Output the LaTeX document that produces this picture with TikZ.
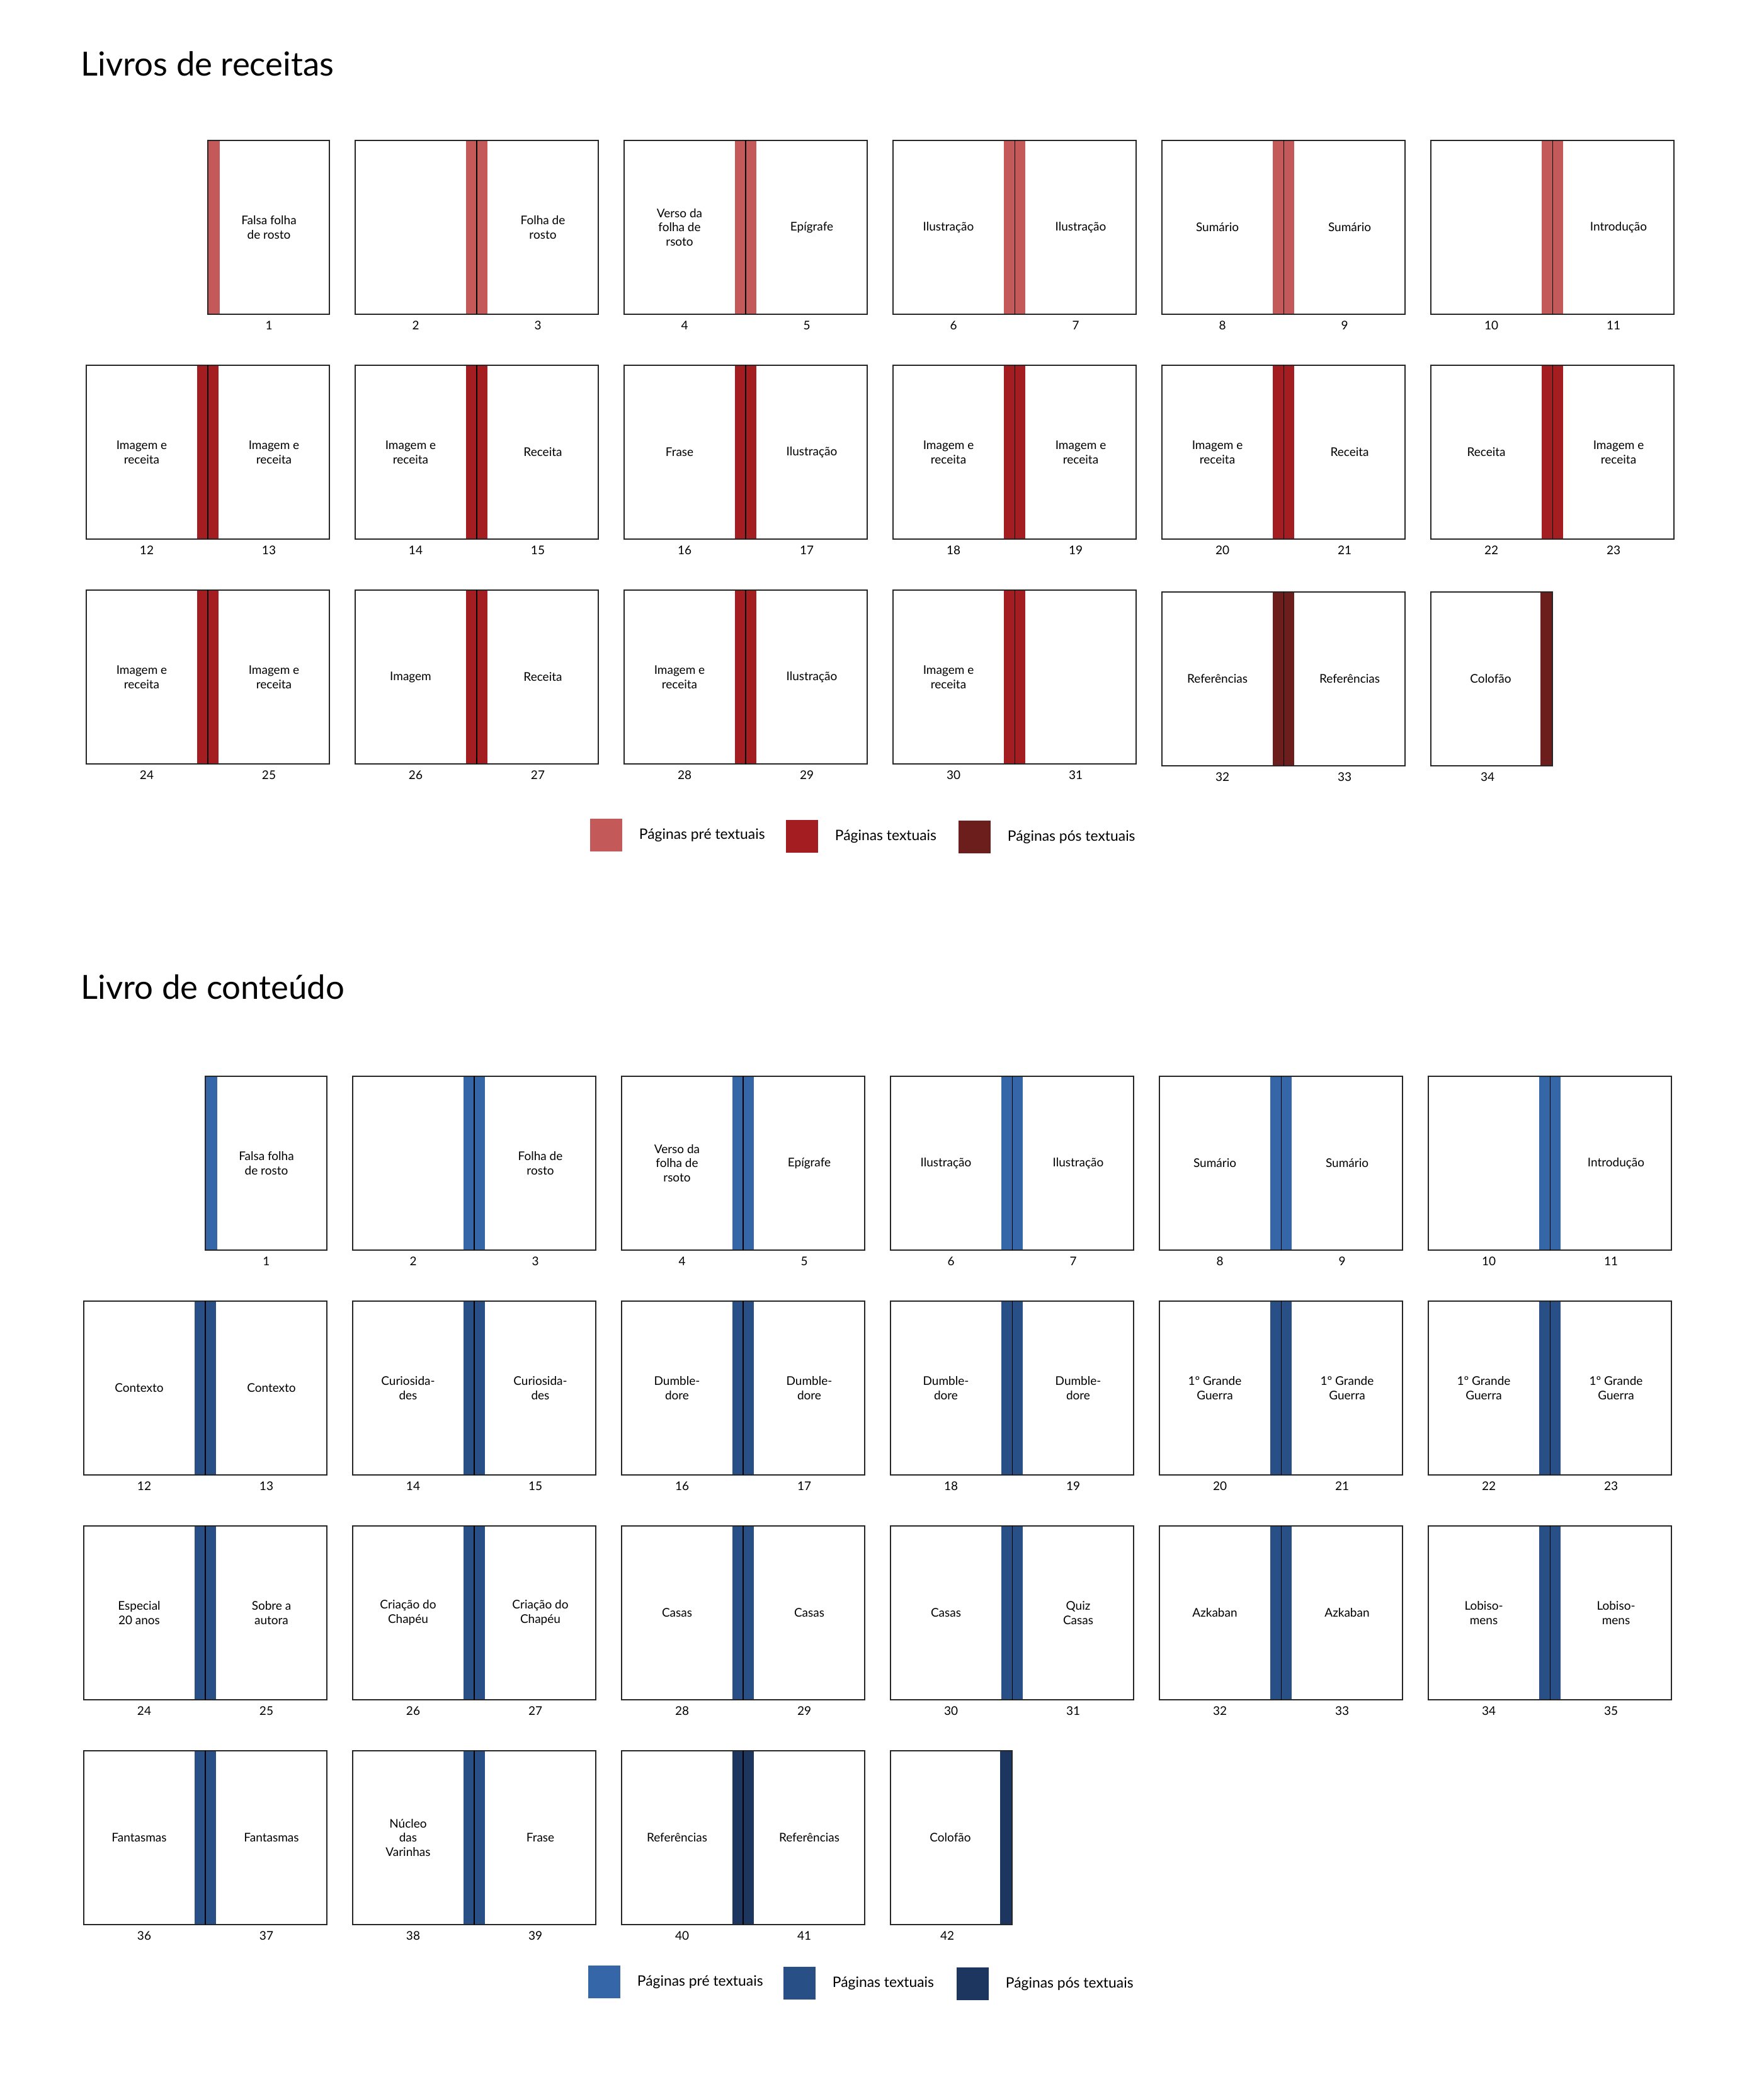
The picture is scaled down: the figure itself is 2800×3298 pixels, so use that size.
\documentclass[tikz,border=0pt]{standalone}
\usepackage{fontspec}
\setmainfont{Lato}
\usetikzlibrary{positioning}
\definecolor{vermpre}{HTML}{C4595A}
\definecolor{vermtxt}{HTML}{A41D21}
\definecolor{vermpos}{HTML}{6B1E1C}
\definecolor{azulpre}{HTML}{3566A8}
\definecolor{azultxt}{HTML}{285087}
\definecolor{azulpos}{HTML}{1C365F}

% pagina dupla: prefixo, x, y, cor, rotulo esq, rotulo dir, num esq, num dir
\newcommand{\dupla}[8]{%
  \fill[#4] (#2+176,#3) rectangle (#2+210,#3+276);
  \draw[pag] (#2,#3) rectangle (#2+386,#3+276);
  \draw[lomb] (#2+193,#3) -- (#2+193,#3+276);
  \node[rot] (#1r#7) at (#2+88,#3+138) {#5};
  \node[rot] (#1r#8) at (#2+298,#3+138) {#6};
  \node[num] (#1n#7) at (#2+96,#3+294) {#7};
  \node[num] (#1n#8) at (#2+290,#3+294) {#8};
}
% pagina simples a direita
\newcommand{\direita}[6]{%
  \fill[#4] (#2+193,#3) rectangle (#2+212,#3+276);
  \draw[pag] (#2+193,#3) rectangle (#2+386,#3+276);
  \node[rot] (#1r#6) at (#2+290,#3+138) {#5};
  \node[num] (#1n#6) at (#2+290,#3+294) {#6};
}
% pagina simples a esquerda
\newcommand{\esquerda}[6]{%
  \fill[#4] (#2+174,#3) rectangle (#2+193,#3+276);
  \draw[pag] (#2,#3) rectangle (#2+193,#3+276);
  \node[rot] (#1r#6) at (#2+95,#3+138) {#5};
  \node[num] (#1n#6) at (#2+90,#3+294) {#6};
}

\begin{document}
\begin{tikzpicture}[
  x=0.01cm, y=-0.01cm,
  pag/.style={draw=black!85, line width=0.55pt},
  lomb/.style={draw=black, line width=0.3pt},
  rot/.style={font=\fontsize{5.4}{6.5}\selectfont, align=center, inner sep=0pt},
  num/.style={font=\fontsize{5.4}{6.5}\selectfont, inner sep=0pt},
  tit/.style={font=\fontsize{15}{18}\selectfont, inner sep=0pt, anchor=base west},
  quad/.style={minimum width=0.51cm, minimum height=0.52cm, inner sep=0pt},
  leg/.style={font=\fontsize{6.5}{8}\selectfont, inner sep=0pt}
]
\useasboundingbox (0,0) rectangle (2800,3298);

% livros de receitas
\node[tit] (tv) at (128,121) {Livros de receitas};

\direita{v}{137}{223}{vermpre}{Falsa folha\\de rosto}{1}
\dupla{v}{564}{223}{vermpre}{}{Folha de\\rosto}{2}{3}
\dupla{v}{991}{223}{vermpre}{Verso da\\folha de\\rsoto}{Epígrafe}{4}{5}
\dupla{v}{1418}{223}{vermpre}{Ilustração}{Ilustração}{6}{7}
\dupla{v}{1845}{223}{vermpre}{Sumário}{Sumário}{8}{9}
\dupla{v}{2272}{223}{vermpre}{}{Introdução}{10}{11}

\dupla{v}{137}{580}{vermtxt}{Imagem e\\receita}{Imagem e\\receita}{12}{13}
\dupla{v}{564}{580}{vermtxt}{Imagem e\\receita}{Receita}{14}{15}
\dupla{v}{991}{580}{vermtxt}{Frase}{Ilustração}{16}{17}
\dupla{v}{1418}{580}{vermtxt}{Imagem e\\receita}{Imagem e\\receita}{18}{19}
\dupla{v}{1845}{580}{vermtxt}{Imagem e\\receita}{Receita}{20}{21}
\dupla{v}{2272}{580}{vermtxt}{Receita}{Imagem e\\receita}{22}{23}

\dupla{v}{137}{937}{vermtxt}{Imagem e\\receita}{Imagem e\\receita}{24}{25}
\dupla{v}{564}{937}{vermtxt}{Imagem}{Receita}{26}{27}
\dupla{v}{991}{937}{vermtxt}{Imagem e\\receita}{Ilustração}{28}{29}
\dupla{v}{1418}{937}{vermtxt}{Imagem e\\receita}{}{30}{31}
\dupla{v}{1845}{940}{vermpos}{Referências}{Referências}{32}{33}
\esquerda{v}{2272}{940}{vermpos}{Colofão}{34}

\node[quad, fill=vermpre] (lv1) at (962,1326) {};
\node[leg, right=2.6mm of lv1] (tv1) {Páginas pré textuais};
\node[quad, fill=vermtxt] (lv2) at (1273,1328) {};
\node[leg, right=2.6mm of lv2] (tv2) {Páginas textuais};
\node[quad, fill=vermpos] (lv3) at (1547,1329) {};
\node[leg, right=2.6mm of lv3] (tv3) {Páginas pós textuais};

% livro de conteudo
\node[tit] (ta) at (128,1586) {Livro de conteúdo};

\direita{a}{133}{1709}{azulpre}{Falsa folha\\de rosto}{1}
\dupla{a}{560}{1709}{azulpre}{}{Folha de\\rosto}{2}{3}
\dupla{a}{987}{1709}{azulpre}{Verso da\\folha de\\rsoto}{Epígrafe}{4}{5}
\dupla{a}{1414}{1709}{azulpre}{Ilustração}{Ilustração}{6}{7}
\dupla{a}{1841}{1709}{azulpre}{Sumário}{Sumário}{8}{9}
\dupla{a}{2268}{1709}{azulpre}{}{Introdução}{10}{11}

\dupla{a}{133}{2066}{azultxt}{Contexto}{Contexto}{12}{13}
\dupla{a}{560}{2066}{azultxt}{Curiosida-\\des}{Curiosida-\\des}{14}{15}
\dupla{a}{987}{2066}{azultxt}{Dumble-\\dore}{Dumble-\\dore}{16}{17}
\dupla{a}{1414}{2066}{azultxt}{Dumble-\\dore}{Dumble-\\dore}{18}{19}
\dupla{a}{1841}{2066}{azultxt}{1º Grande\\Guerra}{1º Grande\\Guerra}{20}{21}
\dupla{a}{2268}{2066}{azultxt}{1º Grande\\Guerra}{1º Grande\\Guerra}{22}{23}

\dupla{a}{133}{2423}{azultxt}{Especial\\20 anos}{Sobre a\\autora}{24}{25}
\dupla{a}{560}{2423}{azultxt}{Criação do\\Chapéu}{Criação do\\Chapéu}{26}{27}
\dupla{a}{987}{2423}{azultxt}{Casas}{Casas}{28}{29}
\dupla{a}{1414}{2423}{azultxt}{Casas}{Quiz\\Casas}{30}{31}
\dupla{a}{1841}{2423}{azultxt}{Azkaban}{Azkaban}{32}{33}
\dupla{a}{2268}{2423}{azultxt}{Lobiso-\\mens}{Lobiso-\\mens}{34}{35}

\dupla{a}{133}{2780}{azultxt}{Fantasmas}{Fantasmas}{36}{37}
\dupla{a}{560}{2780}{azultxt}{Núcleo\\das\\Varinhas}{Frase}{38}{39}
\dupla{a}{987}{2780}{azulpos}{Referências}{Referências}{40}{41}
\esquerda{a}{1414}{2780}{azulpos}{Colofão}{42}

\node[quad, fill=azulpre] (la1) at (959,3147) {};
\node[leg, right=2.6mm of la1] (ta1) {Páginas pré textuais};
\node[quad, fill=azultxt] (la2) at (1269,3149) {};
\node[leg, right=2.6mm of la2] (ta2) {Páginas textuais};
\node[quad, fill=azulpos] (la3) at (1544,3150) {};
\node[leg, right=2.6mm of la3] (ta3) {Páginas pós textuais};
\end{tikzpicture}
\end{document}
